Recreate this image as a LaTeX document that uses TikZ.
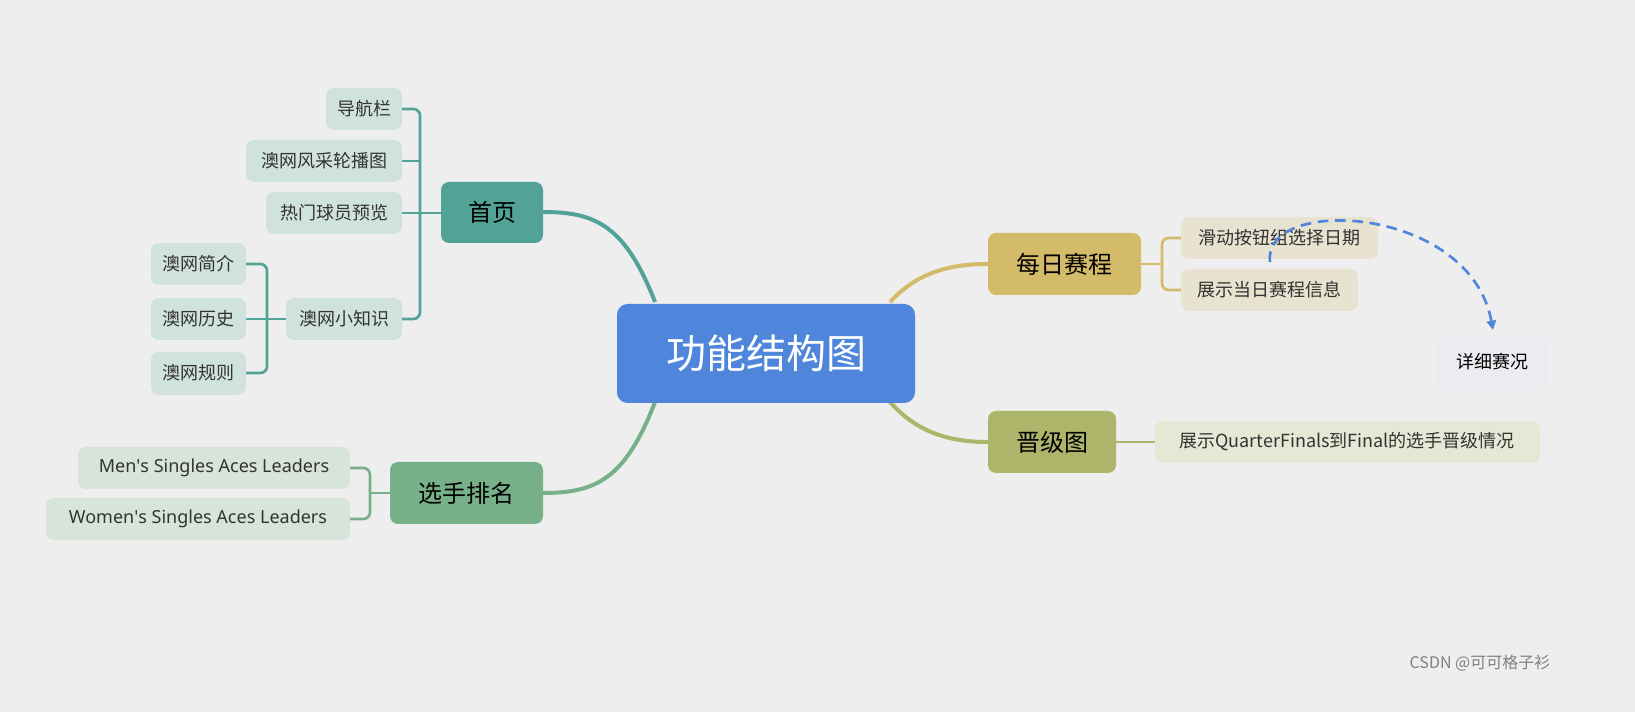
\documentclass[tikz,border=0pt]{standalone}
\usepackage{fontspec}
\setmainfont{Noto Sans CJK SC}
\newfontfamily\lat{Noto Sans}
\usetikzlibrary{arrows.meta}
\definecolor{bg}{HTML}{EEEEEE}
\definecolor{cblue}{HTML}{4F86DC}
\definecolor{cteal}{HTML}{52A297}
\definecolor{cgreen}{HTML}{78B089}
\definecolor{cgold}{HTML}{D4BB6A}
\definecolor{colive}{HTML}{ADB56A}
\definecolor{lteal}{HTML}{D0E2DE}
\definecolor{lgreen}{HTML}{D6E4DA}
\definecolor{lgold}{HTML}{E8E2D0}
\definecolor{lolive}{HTML}{E6E7D4}
\definecolor{lpurp}{HTML}{EDEBF0}
\definecolor{txt}{HTML}{333333}
\tikzset{
 leaf/.style={font=\fontsize{13.5}{15}\selectfont,text=txt},
 main/.style={font=\fontsize{18}{20}\selectfont,text=black},
 link/.style={line width=3pt},
 brk/.style={line width=2pt,rounded corners=5pt},
 rb/.style={rounded corners=6pt},
}
\begin{document}
\begin{tikzpicture}[x=0.75pt,y=-0.75pt]
\fill[bg] (0,0) rectangle (1635,712);
\useasboundingbox (0,0) rectangle (1635,712);
% connectors
\draw[link,cteal] (655,302) .. controls (625,225) and (595,212) .. (543,212);
\draw[link,cgreen] (655,402) .. controls (625,480) and (595,493) .. (543,493);
\draw[link,cgold] (890,302) .. controls (915,275) and (945,264) .. (988,264);
\draw[link,colive] (890,402) .. controls (915,430) and (945,442) .. (988,442);
\draw[line width=2pt,colive] (1116,442) -- (1155,442);
% brackets
\draw[brk,cteal] (402,109) -- (420,109) -- (420,319) -- (402,319);
\draw[brk,cteal] (402,161) -- (420,161);
\draw[brk,cteal] (402,213) -- (441,213);
\draw[brk,cteal] (246,264) -- (267,264) -- (267,373) -- (246,373);
\draw[brk,cteal] (246,319) -- (286,319);
\draw[brk,cgreen] (350,468) -- (370,468) -- (370,519) -- (350,519);
\draw[brk,cgreen] (370,493) -- (390,493);
\draw[brk,cgold] (1181,238) -- (1162,238) -- (1162,290) -- (1181,290);
\draw[brk,cgold] (1141,264) -- (1162,264);
% boxes
\fill[cblue,rounded corners=8pt] (617,304) rectangle (915,403);
\node[text=white,font=\fontsize{30}{34}\selectfont] (c) at (766,353) {功能结构图};
\fill[cteal,rb] (441,182) rectangle (543,243);
\node[main] (sy) at (492,212) {首页};
\fill[cgreen,rb] (390,462) rectangle (543,524);
\node[main] (pm) at (466,493) {选手排名};
\fill[cgold,rb] (988,233) rectangle (1141,295);
\node[main] (sc) at (1064,264) {每日赛程};
\fill[colive,rb] (988,411) rectangle (1116,473);
\node[main] (jj) at (1052,442) {晋级图};
\fill[lteal,rb] (326,88) rectangle (402,130);
\node[leaf] (a1) at (364,109) {导航栏};
\fill[lteal,rb] (246,140) rectangle (402,182);
\node[leaf] (a2) at (324,161) {澳网风采轮播图};
\fill[lteal,rb] (266,192) rectangle (402,234);
\node[leaf] (a3) at (334,213) {热门球员预览};
\fill[lteal,rb] (286,298) rectangle (402,340);
\node[leaf] (a4) at (344,319) {澳网小知识};
\fill[lteal,rb] (151,243) rectangle (246,285);
\node[leaf] (b1) at (198,264) {澳网简介};
\fill[lteal,rb] (151,298) rectangle (246,340);
\node[leaf] (b2) at (198,319) {澳网历史};
\fill[lteal,rb] (151,352) rectangle (246,395);
\node[leaf] (b3) at (198,373) {澳网规则};
\fill[lgreen,rb] (78,447) rectangle (350,489);
\node[leaf] (m1) at (214,468) {\lat Men\textquotesingle s Singles Aces Leaders};
\fill[lgreen,rb] (46,498) rectangle (350,540);
\node[leaf] (m2) at (198,519) {\lat Women\textquotesingle s Singles Aces Leaders};
\fill[lgold,rb] (1181,217) rectangle (1378,259);
\node[leaf] (d1) at (1279,238) {滑动按钮组选择日期};
\fill[lgold,rb] (1181,269) rectangle (1358,311);
\node[leaf] (d2) at (1269,290) {展示当日赛程信息};
\fill[lolive,rb] (1155,421) rectangle (1540,463);
\node[leaf] (e1) at (1347,442) {展示QuarterFinals到Final的选手晋级情况};
\fill[lpurp,rb] (1437,335) rectangle (1548,390);
\node[leaf,text=black] (xq) at (1492,362) {详细赛况};
\draw[cblue,line width=2pt,dash pattern=on 8pt off 5pt,-{Triangle[length=7pt,width=7pt]}] (1270,262) .. controls (1262,195) and (1470,205) .. (1493,330);
\node[text=gray,font=\fontsize{12}{14}\selectfont,anchor=east] (w) at (1555,663) {CSDN @可可格子衫};
\end{tikzpicture}
\end{document}
